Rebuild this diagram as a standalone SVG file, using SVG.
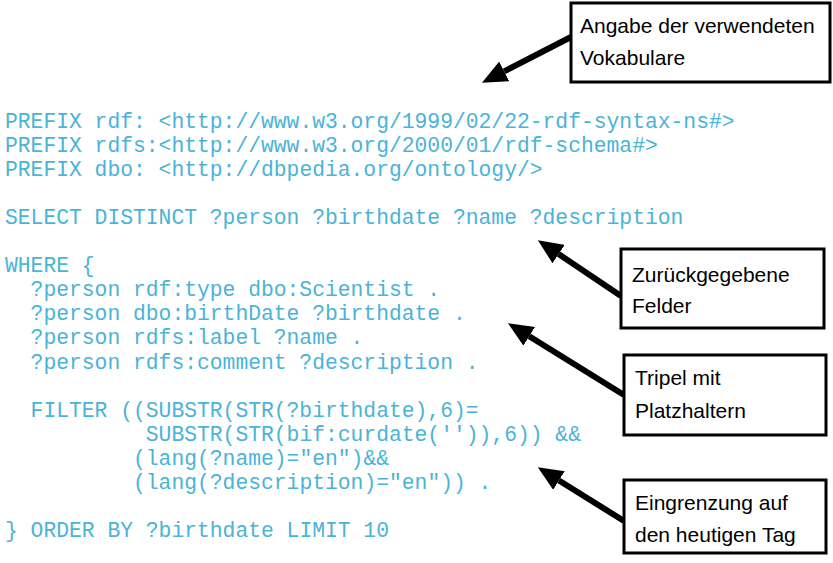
<svg xmlns="http://www.w3.org/2000/svg" width="833" height="563" viewBox="0 0 833 563">
<style>
.code{font-family:"Liberation Mono","Courier New",monospace;font-size:21.33px;fill:#4ab3d8}
.box{fill:#fff;stroke:#000;stroke-width:3}
.lbl{font-family:"Liberation Sans",Arial,sans-serif;font-size:21px;fill:#000}
.arr{stroke:#000;stroke-width:6;fill:none;marker-end:url(#ah)}
</style>
<defs>
<marker id="ah" viewBox="0 0 25 22" refX="0" refY="11" markerWidth="25" markerHeight="22" markerUnits="userSpaceOnUse" orient="auto">
<path d="M0,0 L25,11 L0,22 z" fill="#000"/>
</marker>
</defs>
<rect width="833" height="563" fill="#fff"/>
<g id="code" class="code">
<text x="5" y="127.5">PREFIX rdf: &lt;http://www.w3.org/1999/02/22-rdf-syntax-ns#&gt;</text>
<text x="5" y="151.6">PREFIX rdfs:&lt;http://www.w3.org/2000/01/rdf-schema#&gt;</text>
<text x="5" y="175.7">PREFIX dbo: &lt;http://dbpedia.org/ontology/&gt;</text>
<text x="5" y="223.9">SELECT DISTINCT ?person ?birthdate ?name ?description</text>
<text x="5" y="272.1">WHERE {</text>
<text x="30.6" y="296.2">?person rdf:type dbo:Scientist .</text>
<text x="30.6" y="320.3">?person dbo:birthDate ?birthdate .</text>
<text x="30.6" y="344.4">?person rdfs:label ?name .</text>
<text x="30.6" y="368.5">?person rdfs:comment ?description .</text>
<text x="30.6" y="416.7">FILTER ((SUBSTR(STR(?birthdate),6)=</text>
<text x="145.8" y="440.8">SUBSTR(STR(bif:curdate('')),6)) &amp;&amp;</text>
<text x="133" y="464.9">(lang(?name)="en")&amp;&amp;</text>
<text x="133" y="489">(lang(?description)="en")) .</text>
<text x="5" y="537.2">} ORDER BY ?birthdate LIMIT 10</text>
</g>
<g id="connectors">
<line class="arr" x1="571" y1="37" x2="504.2" y2="71.4"/>
<line class="arr" x1="621" y1="296" x2="558.6" y2="254.1"/>
<line class="arr" x1="624" y1="395" x2="529.2" y2="336.3"/>
<line class="arr" x1="624" y1="521" x2="559" y2="480.5"/>
</g>
<g id="box-vokabulare">
<rect class="box" x="571" y="3" width="259" height="79"/>
<text class="lbl" x="580" y="33">Angabe der verwendeten</text>
<text class="lbl" x="580" y="65">Vokabulare</text>
</g>
<g id="box-felder">
<rect class="box" x="621" y="249" width="203" height="79"/>
<text class="lbl" x="632" y="282">Zurückgegebene</text>
<text class="lbl" x="632" y="313">Felder</text>
</g>
<g id="box-tripel">
<rect class="box" x="624" y="355" width="202" height="80"/>
<text class="lbl" x="635" y="385">Tripel mit</text>
<text class="lbl" x="635" y="418">Platzhaltern</text>
</g>
<g id="box-filter">
<rect class="box" x="624" y="480" width="202" height="73"/>
<text class="lbl" x="635" y="510">Eingrenzung auf</text>
<text class="lbl" x="635" y="542">den heutigen Tag</text>
</g>
</svg>
